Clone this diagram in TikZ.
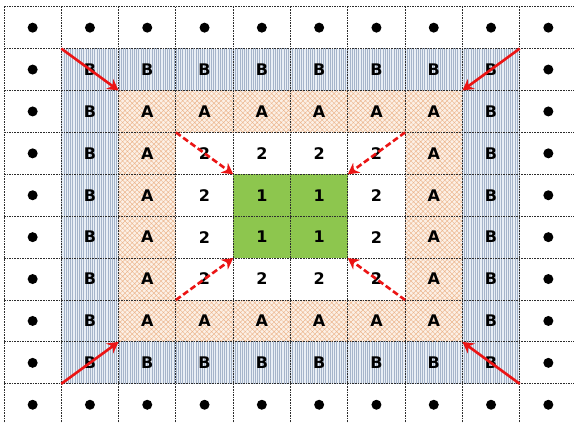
\documentclass[tikz,border=0pt]{standalone}
\usepackage{fontspec}
\setmainfont{DejaVu Sans}
\usetikzlibrary{patterns.meta,arrows.meta}
\definecolor{bfill}{RGB}{232,238,245}
\definecolor{bline}{RGB}{165,180,202}
\definecolor{afill}{RGB}{252,240,230}
\definecolor{aline}{RGB}{236,182,142}
\definecolor{gfill}{RGB}{141,198,78}
\definecolor{gridc}{RGB}{45,45,45}
\definecolor{arrc}{RGB}{235,20,20}
\tikzset{
  cell/.style={minimum width=57.3pt, minimum height=41.9pt, inner sep=0pt, outer sep=0pt, font=\fontsize{16}{18}\selectfont\bfseries},
  bcell/.style={cell, preaction={fill=bfill}, pattern={Lines[angle=90,distance=2.2pt,line width=0.5pt]}, pattern color=bline},
  acell/.style={cell, preaction={fill=afill}, pattern={Hatch[angle=45,distance=3.4pt,line width=0.45pt]}, pattern color=aline},
  gcell/.style={cell, fill=gfill},
  dotc/.style={circle, fill=black, minimum size=10pt, inner sep=0pt},
  gridline/.style={gridc, line width=1pt, dash pattern=on 1.6pt off 1pt},
  bigarrow/.style={arrc, line width=2.6pt, -{Stealth[length=11pt,width=12pt,inset=3.5pt]}},
  dasharrow/.style={bigarrow, dash pattern=on 6pt off 3pt},
}
\begin{document}
\begin{tikzpicture}[x=1pt,y=-1pt]
\useasboundingbox[fill=white] (0,0) rectangle (574,423);
\foreach \i in {0,...,9}{
  \foreach \j in {0,...,9}{
    \pgfmathtruncatemacro\r{min(\i,\j,9-\i,9-\j)}
    \ifcase\r
      \node[cell] (c\i-\j) at ({4+57.3*(\i+0.5)},{6.7+41.9*(\j+0.5)}) {};
      \node[dotc] (d\i-\j) at (c\i-\j) {};
    \or
      \node[bcell] (c\i-\j) at ({4+57.3*(\i+0.5)},{6.7+41.9*(\j+0.5)}) {B};
    \or
      \node[acell] (c\i-\j) at ({4+57.3*(\i+0.5)},{6.7+41.9*(\j+0.5)}) {A};
    \or
      \node[cell] (c\i-\j) at ({4+57.3*(\i+0.5)},{6.7+41.9*(\j+0.5)}) {2};
    \or
      \node[gcell] (c\i-\j) at ({4+57.3*(\i+0.5)},{6.7+41.9*(\j+0.5)}) {1};
    \fi
  }
}
\foreach \i in {0,...,9}{
  \draw[gridline] (c\i-0.north west) -- (c\i-9.south west);
  \draw[gridline] (c0-\i.north west) -- (c9-\i.north east);
}
\draw[gridline] (c9-0.north east) -- (c9-9.south east);
\draw[gridline] (c0-9.south west) -- (c9-9.south east);
\draw[bigarrow] (c1-1.north west) -- (c2-2.north west);
\draw[bigarrow] (c8-1.north east) -- (c7-2.north east);
\draw[bigarrow] (c1-8.south west) -- (c2-7.south west);
\draw[bigarrow] (c8-8.south east) -- (c7-7.south east);
\draw[dasharrow] (c3-3.north west) -- (c4-4.north west);
\draw[dasharrow] (c6-3.north east) -- (c5-4.north east);
\draw[dasharrow] (c3-6.south west) -- (c4-5.south west);
\draw[dasharrow] (c6-6.south east) -- (c5-5.south east);
\end{tikzpicture}
\end{document}
